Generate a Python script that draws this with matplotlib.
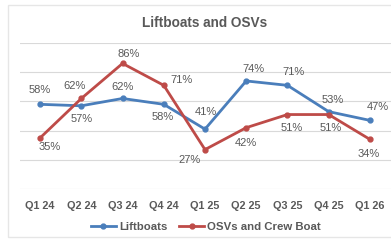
import matplotlib

matplotlib.use("Agg")
import matplotlib.pyplot as plt
from matplotlib.patches import Rectangle

quarters = ["Q1 24", "Q2 24", "Q3 24", "Q4 24", "Q1 25", "Q2 25", "Q3 25", "Q4 25", "Q1 26"]
liftboats = [58, 57, 62, 58, 41, 74, 71, 53, 47]
osvs = [35, 62, 86, 71, 27, 42, 51, 51, 34]

BLUE = "#4A7EBB"
RED = "#BE4B48"
TEXT = "#595959"
GRID = "#D9D9D9"

# label offsets in pixels (dx, dy), screen coords with y up
LIFT_OFFS = [(0, 14), (0, -13), (0, 11), (-1, -13), (1, 17), (7, 12), (6, 13), (4, 12), (8, 13)]
OSV_OFFS = [(10, -9), (-7, 12), (6, 9), (18, 5), (-15, -10), (0, -15), (4, -13), (2, -13), (-1, -15)]

plt.rcParams["font.family"] = ["Liberation Sans", "DejaVu Sans"]

fig = plt.figure(figsize=(3.91, 2.4), dpi=100)
fig.patches.append(Rectangle((8 / 391, 3 / 240), 1.0, 232 / 240, transform=fig.transFigure,
                             fill=False, edgecolor="#E6E6E6", linewidth=1))

ax = fig.add_axes([19.5 / 391, 51 / 240, 371 / 391, 146 / 240])
x = list(range(len(quarters)))

ax.plot(x, liftboats, "-o", color=BLUE, linewidth=2, markersize=3.5, label="Liftboats", zorder=3)
ax.plot(x, osvs, "-o", color=RED, linewidth=2, markersize=3.5, label="OSVs and Crew Boat", zorder=3)

for i, v in enumerate(liftboats):
    dx, dy = LIFT_OFFS[i]
    ax.annotate(f"{v}%", (i, v), xytext=(dx * 0.72, dy * 0.72), textcoords="offset points",
                ha="center", va="center", fontsize=8, color=TEXT)
for i, v in enumerate(osvs):
    dx, dy = OSV_OFFS[i]
    ax.annotate(f"{v}%", (i, v), xytext=(dx * 0.72, dy * 0.72), textcoords="offset points",
                ha="center", va="center", fontsize=8, color=TEXT)

ax.set_xlim(-0.5, len(quarters) - 0.5)
ax.set_ylim(0, 100)
ax.set_yticks(range(0, 101, 20))
ax.yaxis.grid(True, color=GRID, linewidth=0.8)
ax.set_axisbelow(True)
ax.tick_params(axis="y", left=False, labelleft=False)
ax.tick_params(axis="x", bottom=False, pad=5)
ax.set_xticks(x)
ax.set_xticklabels(quarters, fontsize=7.8, fontweight="bold", color=TEXT)
for s in ax.spines.values():
    s.set_visible(False)

ax.set_title("Liftboats and OSVs", fontsize=9.8, fontweight="bold", color=TEXT, pad=11.5)

ax.legend(loc="center", bbox_to_anchor=(206 / 391, 13 / 240), bbox_transform=fig.transFigure,
          ncol=2, frameon=False, labelcolor=TEXT, handlelength=2.2,
          handletextpad=0.3, columnspacing=1.0, prop={"weight": "bold", "size": 8.2})

fig.savefig("out.png", dpi=100)
